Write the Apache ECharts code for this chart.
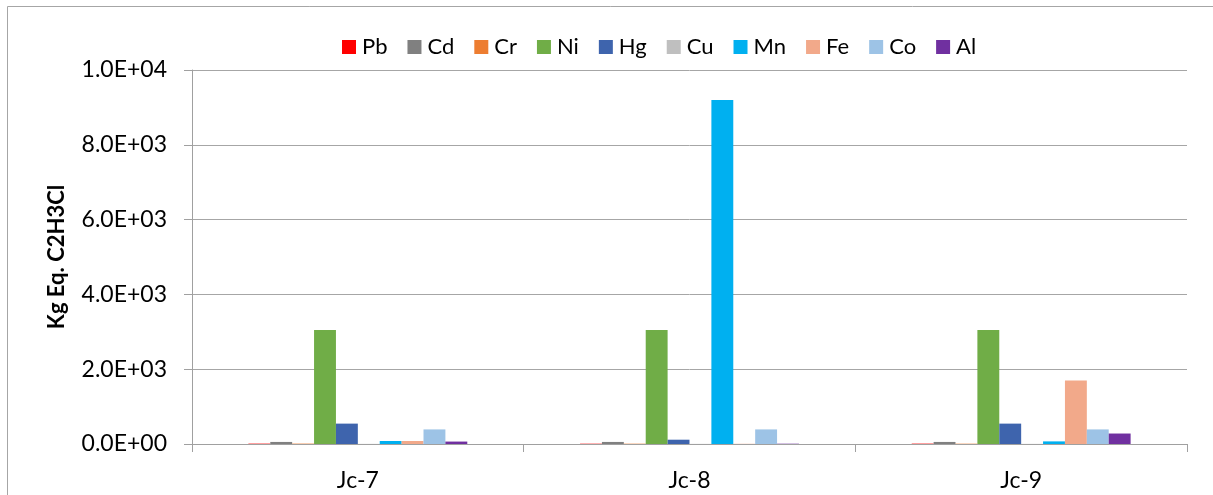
<!DOCTYPE html>
<html>
<head>
<meta charset="utf-8">
<script src="https://cdn.jsdelivr.net/npm/echarts@6/dist/echarts.min.js"></script>
<style>html,body{margin:0;padding:0;background:#fff;}#c{width:1213px;height:495px;}</style>
</head>
<body>
<div id="c"></div>
<script>
var categories = ['Jc-7', 'Jc-8', 'Jc-9'];
var seriesNames = ['Pb', 'Cd', 'Cr', 'Ni', 'Hg', 'Cu', 'Mn', 'Fe', 'Co', 'Al'];
var seriesColors = ['#FF0000', '#808080', '#ED7D31', '#70AD47', '#3E64AD', '#BFBFBF', '#00B0F0', '#F2A98A', '#9DC3E6', '#7030A0'];
var Pb = [10, 8, 10];
var Cd = [55, 55, 55];
var Cr = [10, 8, 8];
var Ni = [3050, 3050, 3050];
var Hg = [545, 115, 545];
var Cu = [3, 3, 3];
var Mn = [80, 9200, 70];
var Fe = [80, 5, 1700];
var Co = [390, 390, 390];
var Al = [65, 8, 280];
var seriesValues = [Pb, Cd, Cr, Ni, Hg, Cu, Mn, Fe, Co, Al];
var yTitle = 'Kg Eq. C2H3Cl';

function sci(v) {
  var s = Number(v).toExponential(1);
  var parts = s.split('e');
  var exp = parseInt(parts[1], 10);
  var sign = exp < 0 ? '-' : '+';
  var a = Math.abs(exp);
  return parts[0] + 'E' + sign + (a < 10 ? '0' + a : '' + a);
}

var FONT = 'Lato';
var chart = echarts.init(document.getElementById('c'), null, {renderer: 'canvas'});
var series = seriesNames.map(function (n, i) {
  return {
    name: n,
    type: 'bar',
    data: seriesValues[i],
    barGap: '0%',
    barCategoryGap: '34%',
    itemStyle: {color: seriesColors[i]}
  };
});
chart.setOption({
  animation: false,
  backgroundColor: '#ffffff',
  textStyle: {fontFamily: FONT},
  graphic: [{
    type: 'rect',
    shape: {x: 7.5, y: 6.5, width: 1400, height: 700},
    style: {fill: 'none', stroke: '#A6A6A6', lineWidth: 1},
    silent: true, z: -10
  }],
  legend: {
    data: seriesNames,
    left: 337,
    top: 31,
    itemWidth: 14,
    itemHeight: 14,
    itemGap: 20,
    icon: 'rect',
    textStyle: {fontFamily: FONT, fontSize: 22, color: '#000', padding: [0, 0, 0, 1]}
  },
  grid: {left: 192, right: 26, top: 70, bottom: 51, containLabel: false},
  xAxis: {
    type: 'category',
    data: categories,
    axisLine: {lineStyle: {color: '#A0A0A0', width: 1}},
    axisTick: {show: true, length: 8, lineStyle: {color: '#A0A0A0'}},
    axisLabel: {fontFamily: FONT, fontSize: 23, color: '#000', margin: 25}
  },
  yAxis: {
    type: 'value',
    min: 0,
    max: 10000,
    interval: 2000,
    name: yTitle,
    nameLocation: 'middle',
    nameGap: 124,
    nameTextStyle: {fontFamily: FONT, fontSize: 22, fontWeight: 'bold', color: '#000'},
    axisLine: {show: true, lineStyle: {color: '#A0A0A0'}},
    axisTick: {show: true, length: 8, lineStyle: {color: '#A0A0A0'}},
    splitLine: {lineStyle: {color: '#A6A6A6', width: 1}},
    axisLabel: {fontFamily: FONT, fontSize: 23, color: '#000', margin: 25, formatter: function (v) { return sci(v); }}
  },
  series: series
});
</script>
</body>
</html>
